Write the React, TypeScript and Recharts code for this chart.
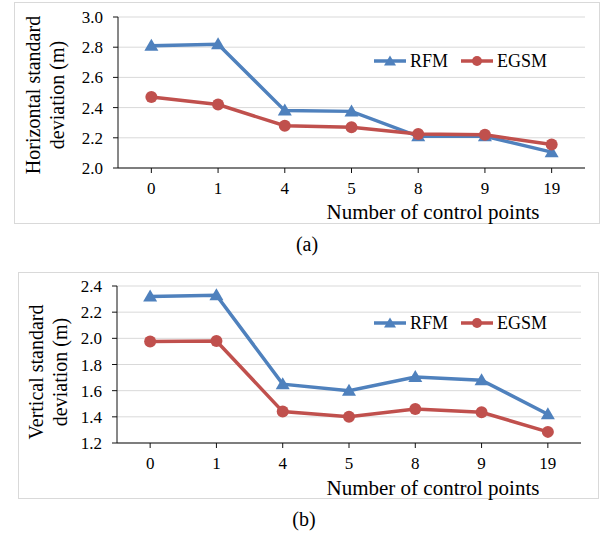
import React from 'react';
import { LineChart, Line, XAxis, YAxis, CartesianGrid, Legend } from 'recharts';

const categories = ['0', '1', '4', '5', '8', '9', '19'];
const rfmHorizontal = [2.81, 2.82, 2.38, 2.375, 2.21, 2.21, 2.105];
const egsmHorizontal = [2.47, 2.42, 2.28, 2.27, 2.225, 2.22, 2.155];
const rfmVertical = [2.32, 2.33, 1.65, 1.6, 1.705, 1.68, 1.42];
const egsmVertical = [1.975, 1.98, 1.44, 1.4, 1.46, 1.435, 1.285];
const horizontalTicks = [2.0, 2.2, 2.4, 2.6, 2.8, 3.0];
const verticalTicks = [1.2, 1.4, 1.6, 1.8, 2.0, 2.2, 2.4];

const BLUE = '#4F81BD';
const RED = '#C0504D';
const FONT = '"Liberation Serif", "Times New Roman", serif';

function Triangle(props: any) {
  const { cx, cy } = props;
  if (cx == null || cy == null) return null;
  return <path d={`M${cx},${cy - 7} L${cx + 7},${cy + 5} L${cx - 7},${cy + 5} Z`} fill={BLUE} />;
}

function Circle(props: any) {
  const { cx, cy } = props;
  if (cx == null || cy == null) return null;
  return <circle cx={cx} cy={cy} r={6} fill={RED} />;
}

function LegendBox() {
  const item = (name: string, color: string, tri: boolean, gap: number) => (
    <div style={{ display: 'flex', alignItems: 'center', marginRight: gap }}>
      <svg width={32} height={14} style={{ marginRight: 4 }}>
        <line x1={0} y1={7} x2={32} y2={7} stroke={color} strokeWidth={3.5} />
        {tri ? <path d="M16,1.5 L22,11.5 L10,11.5 Z" fill={color} /> : <circle cx={16} cy={7} r={5} fill={color} />}
      </svg>
      <span>{name}</span>
    </div>
  );
  return (
    <div style={{ display: 'flex', fontFamily: FONT, fontSize: 18, color: '#000', lineHeight: '20px' }}>
      {item('RFM', BLUE, true, 13)}
      {item('EGSM', RED, false, 0)}
    </div>
  );
}

type PanelProps = {
  top: number;
  height: number;
  margin: { top: number; right: number; bottom: number; left: number };
  rfm: number[];
  egsm: number[];
  ticks: number[];
  titleLines: string[];
  titleX: [number, number];
  titleY: number;
  xTitleY: number;
  legendTop: number;
  frame: { left: number; top: number; width: number; height: number };
};

function Panel(p: PanelProps) {
  const data = categories.map((c, i) => ({ name: c, RFM: p.rfm[i], EGSM: p.egsm[i] }));
  const yTitle = () => (
    <text transform={`translate(0,${p.titleY}) rotate(-90)`} textAnchor="middle" fontFamily={FONT} fontSize={20} fill="#000">
      <tspan x={0} y={p.titleX[0]}>{p.titleLines[0]}</tspan>
      <tspan x={0} y={p.titleX[1]}>{p.titleLines[1]}</tspan>
    </text>
  );
  const xTitle = () => (
    <text x={433} y={p.xTitleY} textAnchor="middle" fontFamily={FONT} fontSize={21} fill="#000">
      Number of control points
    </text>
  );
  return (
    <>
      <div
        style={{
          position: 'absolute',
          left: p.frame.left,
          top: p.frame.top,
          width: p.frame.width,
          height: p.frame.height,
          border: '1px solid #D9D9D9',
          boxSizing: 'border-box',
        }}
      />
      <div style={{ position: 'absolute', left: 0, top: p.top }}>
        <LineChart width={608} height={p.height} data={data} margin={p.margin}>
          <CartesianGrid vertical={false} stroke="#D9D9D9" />
          <XAxis
            dataKey="name"
            scale="band"
            height={30}
            axisLine={{ stroke: '#111' }}
            tickLine={{ stroke: '#111' }}
            tickSize={5}
            tickMargin={9}
            tick={{ fill: '#000', fontSize: 17, fontFamily: FONT }}
            interval={0}
            label={{ content: xTitle }}
          />
          <YAxis
            width={60}
            domain={[p.ticks[0], p.ticks[p.ticks.length - 1]]}
            ticks={p.ticks}
            tickFormatter={(v: number) => v.toFixed(1)}
            axisLine={{ stroke: '#111' }}
            tickLine={{ stroke: '#111' }}
            tickSize={5}
            tickMargin={10}
            tick={{ fill: '#000', fontSize: 17, fontFamily: FONT }}
            label={{ content: yTitle }}
          />
          <Legend
            layout="vertical"
            align="center"
            verticalAlign="middle"
            content={() => <LegendBox />}
            wrapperStyle={{ position: 'absolute', left: 374, top: p.legendTop, width: 'auto', height: 'auto' }}
          />
          <Line
            type="linear"
            dataKey="RFM"
            stroke={BLUE}
            strokeWidth={3.5}
            dot={<Triangle />}
            activeDot={false}
            isAnimationActive={false}
          />
          <Line
            type="linear"
            dataKey="EGSM"
            stroke={RED}
            strokeWidth={3.5}
            dot={<Circle />}
            activeDot={false}
            isAnimationActive={false}
          />
        </LineChart>
      </div>
    </>
  );
}

export default function App() {
  return (
    <div style={{ position: 'absolute', left: 0, top: 0, width: 608, height: 542, background: '#fff', fontFamily: FONT }}>
      <Panel
        top={0}
        height={230}
        margin={{ top: 17, right: 23, bottom: 32, left: 58 }}
        rfm={rfmHorizontal}
        egsm={egsmHorizontal}
        ticks={horizontalTicks}
        titleLines={['Horizontal  standard', 'deviation (m)']}
        titleX={[40, 64]}
        titleY={95}
        xTitleY={219}
        legendTop={51}
        frame={{ left: 14, top: 2, width: 586, height: 222 }}
      />
      <div style={{ position: 'absolute', left: 0, top: 233, width: 608, textAlign: 'center', fontSize: 20, paddingLeft: 6, boxSizing: 'border-box' }}>
        (a)
      </div>
      <Panel
        top={270}
        height={240}
        margin={{ top: 16, right: 27, bottom: 37, left: 57 }}
        rfm={rfmVertical}
        egsm={egsmVertical}
        ticks={verticalTicks}
        titleLines={['Vertical  standard', 'deviation (m)']}
        titleX={[43, 67]}
        titleY={102}
        xTitleY={225}
        legendTop={43}
        frame={{ left: 18, top: 272, width: 581, height: 227 }}
      />
      <div style={{ position: 'absolute', left: 0, top: 508, width: 608, textAlign: 'center', fontSize: 20, boxSizing: 'border-box' }}>
        (b)
      </div>
    </div>
  );
}
